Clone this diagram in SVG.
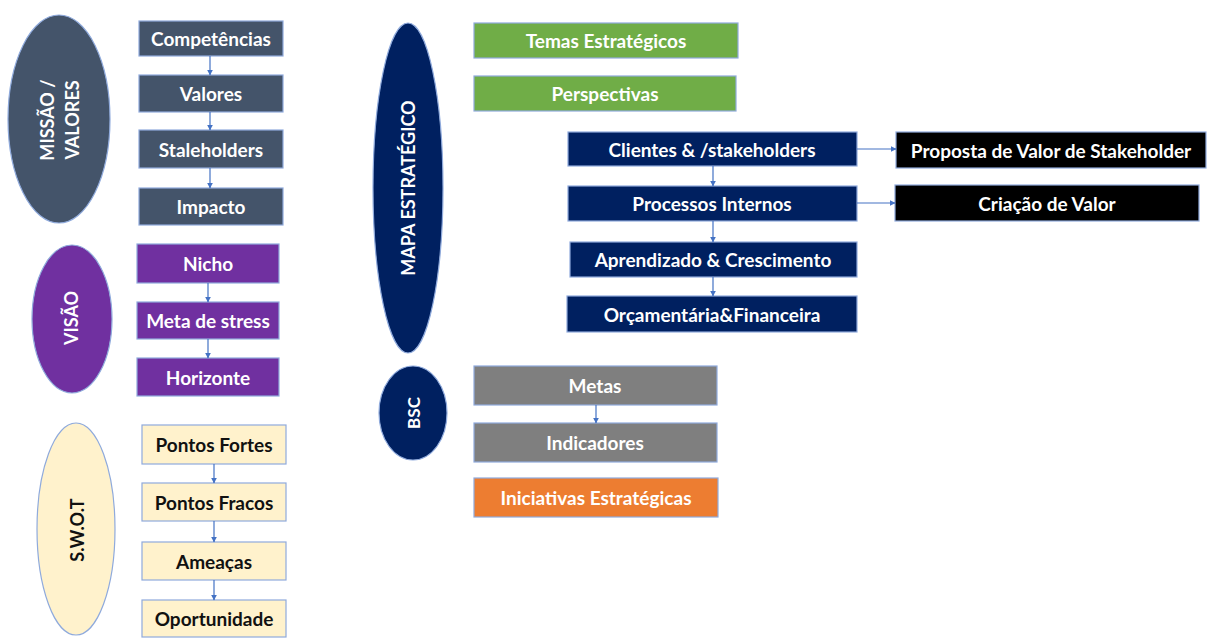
<svg xmlns="http://www.w3.org/2000/svg" width="1207" height="640" viewBox="0 0 1207 640">
  <defs>
    <marker id="arr" viewBox="0 0 10 10" refX="9" refY="5" markerWidth="5" markerHeight="5" orient="auto">
      <path d="M0,0 L10,5 L0,10 z" fill="#4472C4"/>
    </marker>
  </defs>
  <style>
    .box { stroke: #8FAADC; stroke-width: 1.2; }
    .slate { fill: #44546A; }
    .purple { fill: #7030A0; }
    .cream { fill: #FFF2CC; }
    .green { fill: #70AD47; }
    .navy { fill: #002060; }
    .black { fill: #000000; }
    .gray { fill: #7F7F7F; }
    .orange { fill: #ED7D31; }
    text { font-family: Lato, "Open Sans", "Liberation Sans", sans-serif; font-weight: bold; font-size: 19px; text-anchor: middle; dominant-baseline: central; }
    .v { font-size: 18px; }
    .w { fill: #FFFFFF; }
    .k { fill: #111111; }
    .conn { stroke: #4472C4; stroke-width: 1.2; fill: none; marker-end: url(#arr); }
  </style>
  <rect width="1207" height="640" fill="#FFFFFF"/>

  <!-- Missão / Valores -->
  <g id="missao">
    <ellipse class="box slate" cx="59" cy="119" rx="51" ry="104"/>
    <text class="w v" transform="translate(47,120) rotate(-90)">MISSÃO /</text>
    <text class="w v" transform="translate(72,120) rotate(-90)">VALORES</text>
  </g>
  <g id="competencias"><rect class="box slate" x="139" y="21" width="144" height="35"/><text class="w" x="211" y="38.5">Competências</text></g>
  <g id="valores"><rect class="box slate" x="139" y="75" width="144" height="37"/><text class="w" x="211" y="93.5">Valores</text></g>
  <g id="staleholders"><rect class="box slate" x="139" y="130" width="144" height="38"/><text class="w" x="211" y="149">Staleholders</text></g>
  <g id="impacto"><rect class="box slate" x="139" y="188" width="144" height="37"/><text class="w" x="211" y="206.5">Impacto</text></g>

  <!-- Visão -->
  <g id="visao">
    <ellipse class="box purple" cx="72" cy="319" rx="40" ry="74"/>
    <text class="w v" transform="translate(71,318) rotate(-90)">VISÃO</text>
  </g>
  <g id="nicho"><rect class="box purple" x="137" y="244" width="142" height="39"/><text class="w" x="208" y="263.5">Nicho</text></g>
  <g id="meta-stress"><rect class="box purple" x="137" y="302" width="142" height="37"/><text class="w" x="208" y="320.5">Meta de stress</text></g>
  <g id="horizonte"><rect class="box purple" x="137" y="358" width="142" height="38"/><text class="w" x="208" y="377">Horizonte</text></g>

  <!-- SWOT -->
  <g id="swot">
    <ellipse class="box cream" cx="76" cy="529" rx="39" ry="106"/>
    <text class="k v" transform="translate(77,530) rotate(-90)">S.W.O.T</text>
  </g>
  <g id="fortes"><rect class="box cream" x="142" y="425" width="144" height="39"/><text class="k" x="214" y="444.5">Pontos Fortes</text></g>
  <g id="fracos"><rect class="box cream" x="142" y="483" width="144" height="38"/><text class="k" x="214" y="502">Pontos Fracos</text></g>
  <g id="ameacas"><rect class="box cream" x="142" y="542" width="144" height="38"/><text class="k" x="214" y="561">Ameaças</text></g>
  <g id="oportunidade"><rect class="box cream" x="142" y="600" width="144" height="37"/><text class="k" x="214" y="618.5">Oportunidade</text></g>

  <!-- Mapa estratégico -->
  <g id="mapa">
    <ellipse class="box navy" cx="408" cy="188" rx="35" ry="165"/>
    <text class="w v" transform="translate(408,188) rotate(-90)">MAPA ESTRATÉGICO</text>
  </g>
  <g id="temas"><rect class="box green" x="474" y="23" width="264" height="35"/><text class="w" x="606" y="40.5">Temas Estratégicos</text></g>
  <g id="perspectivas"><rect class="box green" x="474" y="76" width="262" height="35"/><text class="w" x="605" y="93.5">Perspectivas</text></g>
  <g id="clientes"><rect class="box navy" x="568" y="132" width="289" height="34"/><text class="w" x="712" y="149">Clientes &amp; /stakeholders</text></g>
  <g id="processos"><rect class="box navy" x="568" y="186" width="289" height="35"/><text class="w" x="712" y="203.5">Processos Internos</text></g>
  <g id="aprendizado"><rect class="box navy" x="570" y="242" width="287" height="35"/><text class="w" x="713" y="259.5">Aprendizado &amp; Crescimento</text></g>
  <g id="orcamentaria"><rect class="box navy" x="567" y="296" width="290" height="36"/><text class="w" x="712" y="314">Orçamentária&amp;Financeira</text></g>
  <g id="proposta"><rect class="box black" x="896" y="132" width="310" height="36"/><text class="w" x="1051" y="150">Proposta de Valor de Stakeholder</text></g>
  <g id="criacao"><rect class="box black" x="895" y="185" width="304" height="36"/><text class="w" x="1047" y="203">Criação de Valor</text></g>

  <!-- BSC -->
  <g id="bsc">
    <ellipse class="box navy" cx="413" cy="413" rx="34" ry="47"/>
    <text class="w" transform="translate(413,413) rotate(-90)" style="font-size:17px">BSC</text>
  </g>
  <g id="metas"><rect class="box gray" x="474" y="366" width="243" height="39"/><text class="w" x="595" y="385.5">Metas</text></g>
  <g id="indicadores"><rect class="box gray" x="474" y="423" width="243" height="39"/><text class="w" x="595" y="442.5">Indicadores</text></g>
  <g id="iniciativas"><rect class="box orange" x="474" y="478" width="244" height="39"/><text class="w" x="596" y="497.5">Iniciativas Estratégicas</text></g>

  <!-- Connectors -->
  <g id="connectors">
    <line class="conn" x1="210" y1="56" x2="210" y2="75"/>
    <line class="conn" x1="210" y1="112" x2="210" y2="130"/>
    <line class="conn" x1="210" y1="168" x2="210" y2="188"/>
    <line class="conn" x1="208" y1="283" x2="208" y2="302"/>
    <line class="conn" x1="208" y1="339" x2="208" y2="358"/>
    <line class="conn" x1="214" y1="464" x2="214" y2="483"/>
    <line class="conn" x1="214" y1="521" x2="214" y2="542"/>
    <line class="conn" x1="214" y1="580" x2="214" y2="600"/>
    <line class="conn" x1="713" y1="166" x2="713" y2="186"/>
    <line class="conn" x1="713" y1="221" x2="713" y2="242"/>
    <line class="conn" x1="713" y1="277" x2="713" y2="296"/>
    <line class="conn" x1="857" y1="149" x2="896" y2="149"/>
    <line class="conn" x1="857" y1="203" x2="895" y2="203"/>
    <line class="conn" x1="596" y1="405" x2="596" y2="423"/>
  </g>
</svg>
